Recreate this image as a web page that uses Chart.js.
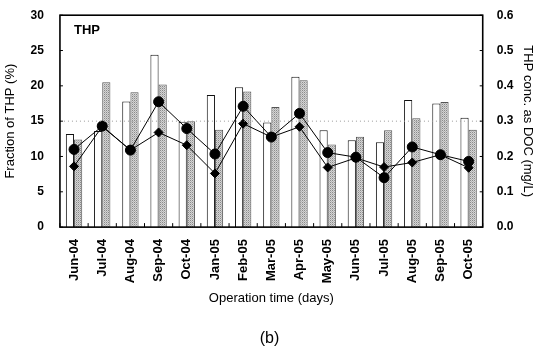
<!DOCTYPE html>
<html>
<head>
<meta charset="utf-8">
<script src="https://cdn.jsdelivr.net/npm/chart.js@4.4.1/dist/chart.umd.min.js"></script>
<style>
  html, body { margin: 0; padding: 0; background: #fff; }
  #wrap { width: 536px; height: 350px; }
</style>
</head>
<body>
<div id="wrap"><canvas id="thpChart" width="536" height="350"></canvas></div>
<script>
// data
const months = ['Jun-04', 'Jul-04', 'Aug-04', 'Sep-04', 'Oct-04', 'Jan-05', 'Feb-05', 'Mar-05',
  'Apr-05', 'May-05', 'Jun-05', 'Jul-05', 'Aug-05', 'Sep-05', 'Oct-05']

// fraction of THP (%), left axis
const fractionWhite = [13.2, 13.6, 17.8, 24.4, 14.9, 18.7, 19.8, 14.8, 21.3, 13.7, 12.3, 12.0, 18.0, 17.5, 15.5]
const fractionGrey = [12.4, 20.5, 19.1, 20.2, 15.0, 13.8, 19.2, 17.0, 20.8, 11.7, 12.8, 13.7, 15.4, 17.7, 13.8]

// THP conc. as DOC (mg/L), right axis
const concCircle = [0.220, 0.286, 0.218, 0.355, 0.279, 0.207, 0.342, 0.255, 0.322, 0.211, 0.198, 0.140, 0.227, 0.205, 0.186]
const concDiamond = [0.172, 0.285, 0.218, 0.268, 0.232, 0.152, 0.293, 0.255, 0.284, 0.169, 0.196, 0.170, 0.183, 0.205, 0.168]

const leftTicks = [0, 5, 10, 15, 20, 25, 30]
const rightTicks = [0, 0.1, 0.2, 0.3, 0.4, 0.5, 0.6]

const FONT = "'Liberation Sans', Arial, sans-serif"

// halftone look for the grey bars
function makeDots() {
  const c = document.createElement('canvas')
  c.width = 2
  c.height = 2
  const g = c.getContext('2d')
  g.fillStyle = '#d4d4d4'
  g.fillRect(0, 0, 2, 2)
  g.fillStyle = '#8a8a8a'
  g.fillRect(0, 0, 1, 1)
  g.fillStyle = '#b4b4b4'
  g.fillRect(1, 1, 1, 1)
  return g.createPattern(c, 'repeat')
}

// frame, inward ticks, dotted line at 15 and the THP tag
const framePlugin = {
  id: 'frame',
  afterDatasetsDraw(chart) {
    const { ctx, chartArea: a, scales } = chart
    ctx.save()

    // dotted reference line
    const y15 = scales.y.getPixelForValue(15)
    ctx.strokeStyle = '#9a9a9a'
    ctx.lineWidth = 1
    ctx.setLineDash([1, 3])
    ctx.beginPath()
    ctx.moveTo(a.left, y15)
    ctx.lineTo(a.right, y15)
    ctx.stroke()
    ctx.setLineDash([])

    ctx.strokeStyle = '#000'
    ctx.lineWidth = 1
    ctx.beginPath()
    for (const v of leftTicks) {
      const y = scales.y.getPixelForValue(v)
      ctx.moveTo(a.left, y)
      ctx.lineTo(a.left + 3, y)
    }
    for (const v of rightTicks) {
      const y = scales.y1.getPixelForValue(v)
      ctx.moveTo(a.right, y)
      ctx.lineTo(a.right - 3, y)
    }
    for (let i = 0; i <= months.length; i++) {
      const x = scales.x.getPixelForValue(i - 0.5)
      ctx.moveTo(x, a.bottom)
      ctx.lineTo(x, a.bottom - 4)
    }
    ctx.stroke()

    ctx.lineWidth = 1.6
    ctx.strokeRect(a.left, a.top, a.right - a.left, a.bottom - a.top)

    ctx.fillStyle = '#000'
    ctx.font = 'bold 13px ' + FONT
    ctx.textBaseline = 'top'
    ctx.fillText('THP', a.left + 14, a.top + 9)
    ctx.restore()
  }
}

const lineStyle = {
  type: 'line',
  yAxisID: 'y1',
  borderColor: '#000',
  backgroundColor: '#000',
  borderWidth: 1,
  pointBorderColor: '#000',
  pointBackgroundColor: '#000',
  order: 0
}

new Chart(document.getElementById('thpChart'), {
  data: {
    labels: months,
    datasets: [
      {
        ...lineStyle,
        label: 'THP conc. (circle)',
        data: concCircle,
        pointStyle: 'circle',
        pointRadius: 5
      },
      {
        ...lineStyle,
        label: 'THP conc. (diamond)',
        data: concDiamond,
        pointStyle: 'rectRot',
        pointRadius: 4.5
      },
      {
        type: 'bar',
        label: 'Fraction (white)',
        data: fractionWhite,
        yAxisID: 'y',
        backgroundColor: '#fff',
        borderColor: '#111',
        borderWidth: 1,
        order: 1
      },
      {
        type: 'bar',
        label: 'Fraction (grey)',
        data: fractionGrey,
        yAxisID: 'y',
        backgroundColor: makeDots(),
        borderColor: '#555',
        borderWidth: 1,
        order: 1
      }
    ]
  },
  options: {
    responsive: false,
    animation: false,
    datasets: {
      bar: { barPercentage: 1, categoryPercentage: 0.58 }
    },
    layout: { padding: { left: 3, right: 0, top: 0, bottom: 0 } },
    plugins: {
      legend: { display: false },
      tooltip: { enabled: false },
      title: {
        display: true,
        position: 'bottom',
        text: '(b)',
        color: '#000',
        font: { family: FONT, size: 16, weight: 'normal' },
        padding: { top: 23, bottom: 2 }
      }
    },
    scales: {
      x: {
        grid: { display: false },
        border: { display: false },
        ticks: {
          color: '#000',
          minRotation: 90,
          maxRotation: 90,
          padding: 4,
          font: { family: FONT, size: 13, weight: 'bold' }
        },
        title: {
          display: true,
          text: 'Operation time (days)',
          color: '#000',
          padding: { top: 3, bottom: 0 },
          font: { family: FONT, size: 13 }
        }
      },
      y: {
        position: 'left',
        min: 0,
        max: 30,
        grid: { display: false },
        border: { display: false },
        afterBuildTicks(scale) {
          scale.ticks = leftTicks.map(v => ({ value: v }))
        },
        ticks: {
          color: '#000',
          padding: 8,
          font: { family: FONT, size: 12, weight: 'bold' }
        },
        title: {
          display: true,
          text: 'Fraction of THP (%)',
          color: '#000',
          padding: { top: 0, bottom: 4 },
          font: { family: FONT, size: 13 }
        }
      },
      y1: {
        position: 'right',
        min: 0,
        max: 0.6,
        grid: { display: false },
        border: { display: false },
        afterBuildTicks(scale) {
          scale.ticks = rightTicks.map(v => ({ value: v }))
        },
        ticks: {
          color: '#000',
          padding: 6,
          font: { family: FONT, size: 12, weight: 'bold' },
          callback: v => Number(v).toFixed(1)
        },
        title: {
          display: true,
          text: 'THP conc. as DOC (mg/L)',
          color: '#000',
          padding: { top: 1, bottom: 0 },
          font: { family: FONT, size: 13 }
        }
      }
    }
  },
  plugins: [framePlugin]
})
</script>
</body>
</html>
